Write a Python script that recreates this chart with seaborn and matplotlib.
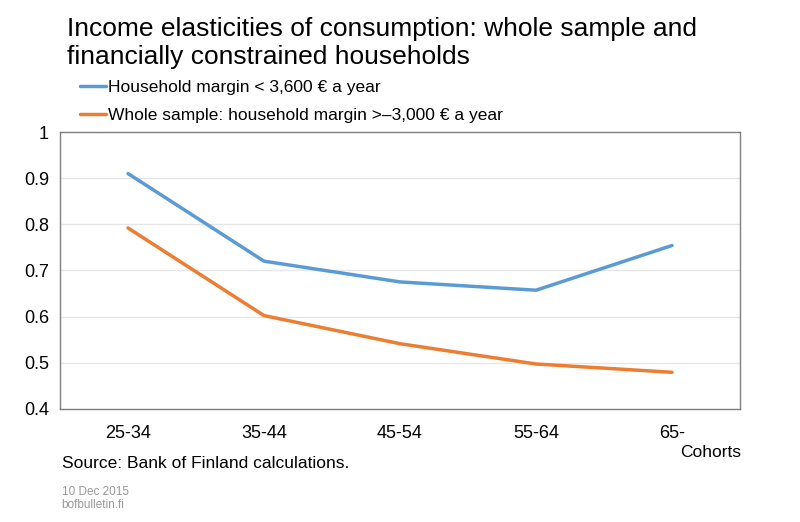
import pandas as pd
import matplotlib
matplotlib.use("Agg")
import matplotlib.pyplot as plt
import seaborn as sns
from matplotlib.lines import Line2D

cohorts = ["25-34", "35-44", "45-54", "55-64", "65-"]
constrained = [0.91, 0.72, 0.675, 0.657, 0.754]
whole_sample = [0.792, 0.602, 0.541, 0.497, 0.479]
series_names = ["Household margin < 3,600 € a year",
                "Whole sample: household margin >\u20133,000 € a year"]

df = pd.DataFrame({"Cohort": cohorts * 2,
                   "Elasticity": constrained + whole_sample,
                   "Series": [series_names[0]] * 5 + [series_names[1]] * 5})

sns.set_theme(style="white")
plt.rcParams["font.family"] = ["Liberation Sans", "DejaVu Sans"]
plt.rcParams["text.color"] = "black"

fig = plt.figure(figsize=(8, 5.22), dpi=100)
ax = fig.add_axes([0.075, 0.217, 0.85, 0.53])

palette = {series_names[0]: "#5B9BD5", series_names[1]: "#ED7D31"}
sns.lineplot(data=df, x="Cohort", y="Elasticity", hue="Series", palette=palette,
             linewidth=2.5, sort=False, ax=ax, legend=False)

ax.set_xlim(-0.5, 4.5)
ax.set_ylim(0.4, 1.0)
ax.set_yticks([0.4, 0.5, 0.6, 0.7, 0.8, 0.9, 1.0])
ax.set_yticklabels(["0.4", "0.5", "0.6", "0.7", "0.8", "0.9", "1"])
ax.yaxis.grid(True, color="#e6e6e6", linewidth=1)
ax.set_axisbelow(True)
for s in ax.spines.values():
    s.set_color("#808080")
    s.set_linewidth(1)
ax.tick_params(axis="both", labelsize=13, length=0, labelcolor="black", pad=8)
ax.tick_params(axis="x", pad=12)
ax.set_xlabel("")
ax.set_ylabel("")

fig.text(0.084, 0.968, "Income elasticities of consumption: whole sample and\nfinancially constrained households",
         fontsize=19, va="top", ha="left", linespacing=1.2)

# legend sits above the plot, as in the original
handles = [Line2D([0], [0], color=palette[n], linewidth=2.5) for n in series_names]
fig.legend(handles, series_names, loc="upper left", bbox_to_anchor=(0.1, 0.847),
           frameon=False, fontsize=12.5, handlelength=1.5, handletextpad=0.1,
           labelspacing=0.75, borderaxespad=0, borderpad=0)

fig.text(0.927, 0.134, "Cohorts", fontsize=12.5, ha="right", va="center")
fig.text(0.077, 0.112, "Source: Bank of Finland calculations.", fontsize=12.5, ha="left", va="center")
fig.text(0.077, 0.045, "10 Dec 2015\nbofbulletin.fi", fontsize=8.5, color="#999999",
         ha="left", va="center", linespacing=1.15)

fig.savefig("out.png", dpi=100)
